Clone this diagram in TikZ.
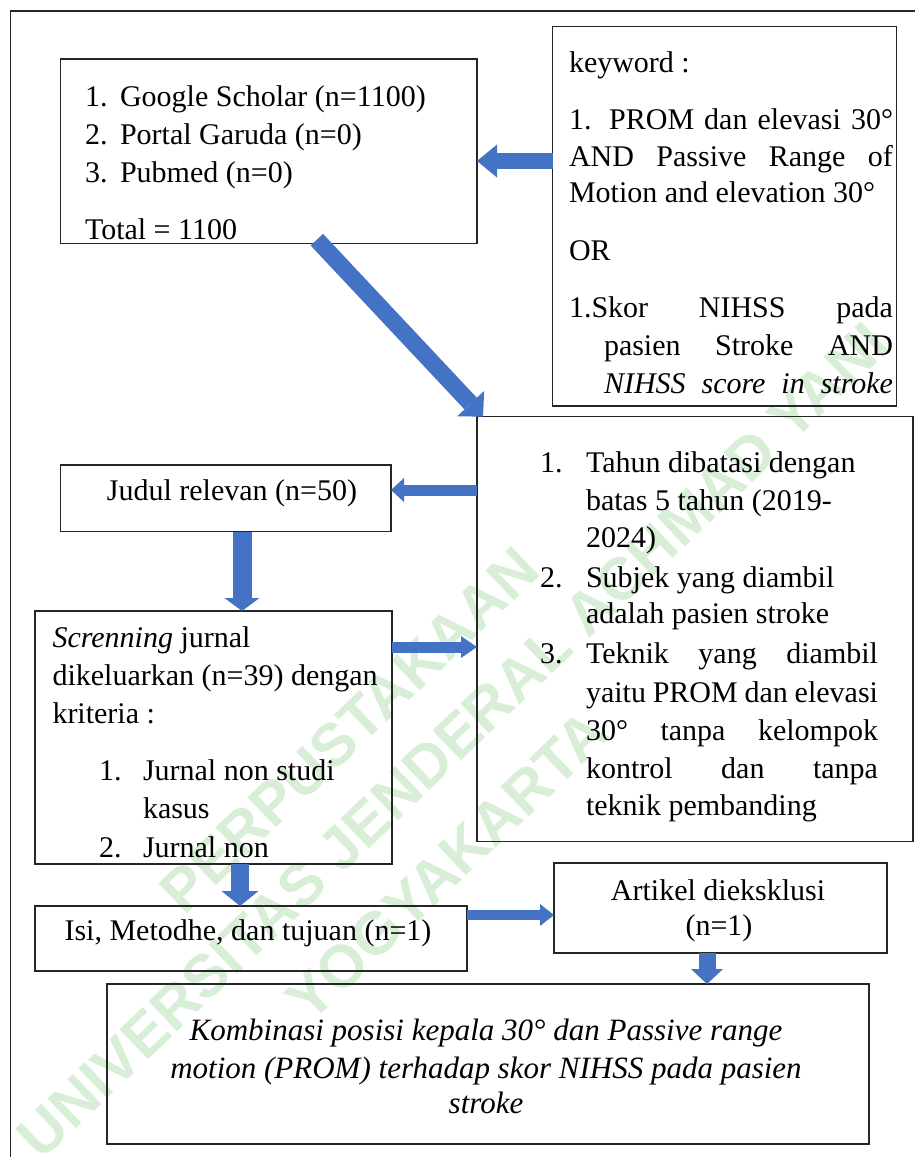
\documentclass[tikz,border=0pt]{standalone}
\usepackage{fontspec}
\setmainfont{Liberation Serif}
\newfontfamily\wmfont{Liberation Sans}
\usetikzlibrary{arrows.meta}
\definecolor{arrowblue}{HTML}{4472C4}
\definecolor{arrowedge}{HTML}{3A62AA}
\definecolor{wmgreen}{RGB}{216,238,214}
\definecolor{boxline}{HTML}{262626}
\newcommand\mkbox[5]{\node[box, minimum width=#4pt, minimum height=#5pt, anchor=north west] (#1) at (#2,#3) {};}
\begin{document}
\begin{tikzpicture}[x=1pt,y=-1pt,
  box/.style={draw=boxline, line width=1.4pt, inner sep=0pt, outer sep=0pt, rectangle},
  txt/.style={inner sep=0pt, outer sep=0pt, anchor=base west, font=\fontsize{30}{38}\selectfont},
  ctxt/.style={txt, anchor=base},
  ktxt/.style={ctxt, font=\fontsize{31}{38}\selectfont\itshape},
  wm/.style={inner sep=0pt, text=wmgreen, font=\wmfont\bfseries\fontsize{60}{60}\selectfont},
  blk/.style n args={3}{draw=arrowblue, line width=#1, -{Triangle[width=#2, length=#3, line width=0pt, fill=arrowblue]}},
  frame/.style={draw=boxline, line width=1.4pt}
]
\useasboundingbox (0,0) rectangle (915,1157);
\clip (0,0) rectangle (915,1157);

% watermark
\node[wm, rotate=43.7] (wmA) at (349,730) {PERPUSTAKAAN};
\node[wm, rotate=43.7] (wmB) at (453,740) {UNIVERSITAS JENDERAL ACHMAD YANI};
\node[wm, rotate=43.7] (wmC) at (447,866) {YOGYAKARTA};

% outer frame
\draw[frame] (10.5,1200) -- (10.5,11) -- (960,11);

% boxes
\mkbox{src}{60.7}{59}{416.3}{184.7}
\mkbox{kw}{552.5}{26.7}{344.2}{379.3}
\mkbox{crit}{477}{416.7}{436}{425}
\mkbox{judul}{60.7}{465}{330.3}{66.7}
\mkbox{scr}{35}{611}{357}{253}
\mkbox{isi}{35}{906}{432}{65}
\mkbox{art}{554}{863}{333}{90}
\mkbox{komb}{107}{984}{762}{160}

% source box text
\node[txt] (s1n) at (85,106) {1.};
\node[txt] (s1) at (120,106) {Google Scholar (n=1100)};
\node[txt] (s2n) at (85,144) {2.};
\node[txt] (s2) at (120,144) {Portal Garuda (n=0)};
\node[txt] (s3n) at (85,182) {3.};
\node[txt] (s3) at (120,182) {Pubmed (n=0)};
\node[txt] (stot) at (85,239) {Total = 1100};

% keyword box text
\node[txt] (k0) at (569,72) {keyword :};
\node[txt] (k1) at (569,129) {\makebox[324pt][s]{1. PROM dan elevasi 30°}};
\node[txt] (k2) at (569,166) {\makebox[324pt][s]{AND Passive Range of}};
\node[txt] (k3) at (569,202) {Motion and elevation 30°};
\node[txt] (k4) at (569,260) {OR};
\node[txt] (k5) at (569,317) {\makebox[324pt][s]{1.Skor NIHSS pada}};
\node[txt] (k6) at (604,355) {\makebox[289pt][s]{pasien Stroke AND}};
\node[txt] (k7) at (604,393) {\makebox[289pt][s]{\itshape NIHSS score in stroke}};

% criteria box text
\node[txt] (c1n) at (540,472) {1.};
\node[txt] (c1a) at (586,472) {Tahun dibatasi dengan};
\node[txt] (c1b) at (586,510) {batas 5 tahun (2019-};
\node[txt] (c1c) at (586,547) {2024)};
\node[txt] (c2n) at (540,587) {2.};
\node[txt] (c2a) at (586,587) {Subjek yang diambil};
\node[txt] (c2b) at (586,623) {adalah pasien stroke};
\node[txt] (c3n) at (540,663) {3.};
\node[txt] (c3a) at (586,663) {\makebox[292pt][s]{Teknik yang diambil}};
\node[txt] (c3b) at (586,702) {\makebox[292pt][s]{yaitu PROM dan elevasi}};
\node[txt] (c3c) at (586,740) {\makebox[292pt][s]{30° tanpa kelompok}};
\node[txt] (c3d) at (586,778) {\makebox[292pt][s]{kontrol dan tanpa}};
\node[txt] (c3e) at (586,815) {teknik pembanding};

% judul
\node[ctxt] (jt) at (232,500) {Judul relevan (n=50)};

% screening
\node[txt] (sc1) at (52.5,647) {\textit{Screnning} jurnal};
\node[txt] (sc2) at (52.5,685) {dikeluarkan (n=39) dengan};
\node[txt] (sc3) at (52.5,723) {kriteria :};
\node[txt] (sc4n) at (99,780) {1.};
\node[txt] (sc4) at (143,780) {Jurnal non studi};
\node[txt] (sc5) at (143,818) {kasus};
\node[txt] (sc6n) at (99,857) {2.};
\node[txt] (sc6) at (143,857) {Jurnal non};

% isi
\node[ctxt] (it) at (248,940) {Isi, Metodhe, dan tujuan (n=1)};

% artikel
\node[ctxt] (at1) at (718,900) {Artikel dieksklusi};
\node[ctxt] (at2) at (719,935) {(n=1)};

% kombinasi
\node[ktxt] (kt1) at (486,1040) {Kombinasi posisi kepala 30° dan Passive range};
\node[ktxt] (kt2) at (486,1078) {motion (PROM) terhadap skor NIHSS pada pasien};
\node[ktxt] (kt3) at (486,1113) {stroke};

% arrows
\draw[blk={16pt}{33pt}{20pt}] (kw.west |- 0,161) -- (src.east |- 0,161);
\draw[blk={17pt}{37pt}{18pt}] ([xshift=48pt,yshift=4pt]src.south) -- ([xshift=6pt]crit.north west);
\draw[blk={11pt}{24pt}{13pt}] (crit.west |- 0,490) -- (judul.east |- 0,490);
\draw[blk={19pt}{35pt}{13pt}] (judul.south -| 242,0) -- (scr.north -| 242,0);
\draw[blk={11pt}{22pt}{16pt}] (scr.east |- 0,647) -- (crit.west |- 0,647);
\draw[blk={18pt}{37pt}{15pt}] (scr.south -| 240,0) -- (isi.north -| 240,0);
\draw[blk={10pt}{22pt}{14pt}] (isi.east |- 0,915) -- (art.west |- 0,915);
\draw[blk={17pt}{32pt}{15pt}] (art.south -| 707,0) -- (komb.north -| 707,0);
\end{tikzpicture}
\end{document}
